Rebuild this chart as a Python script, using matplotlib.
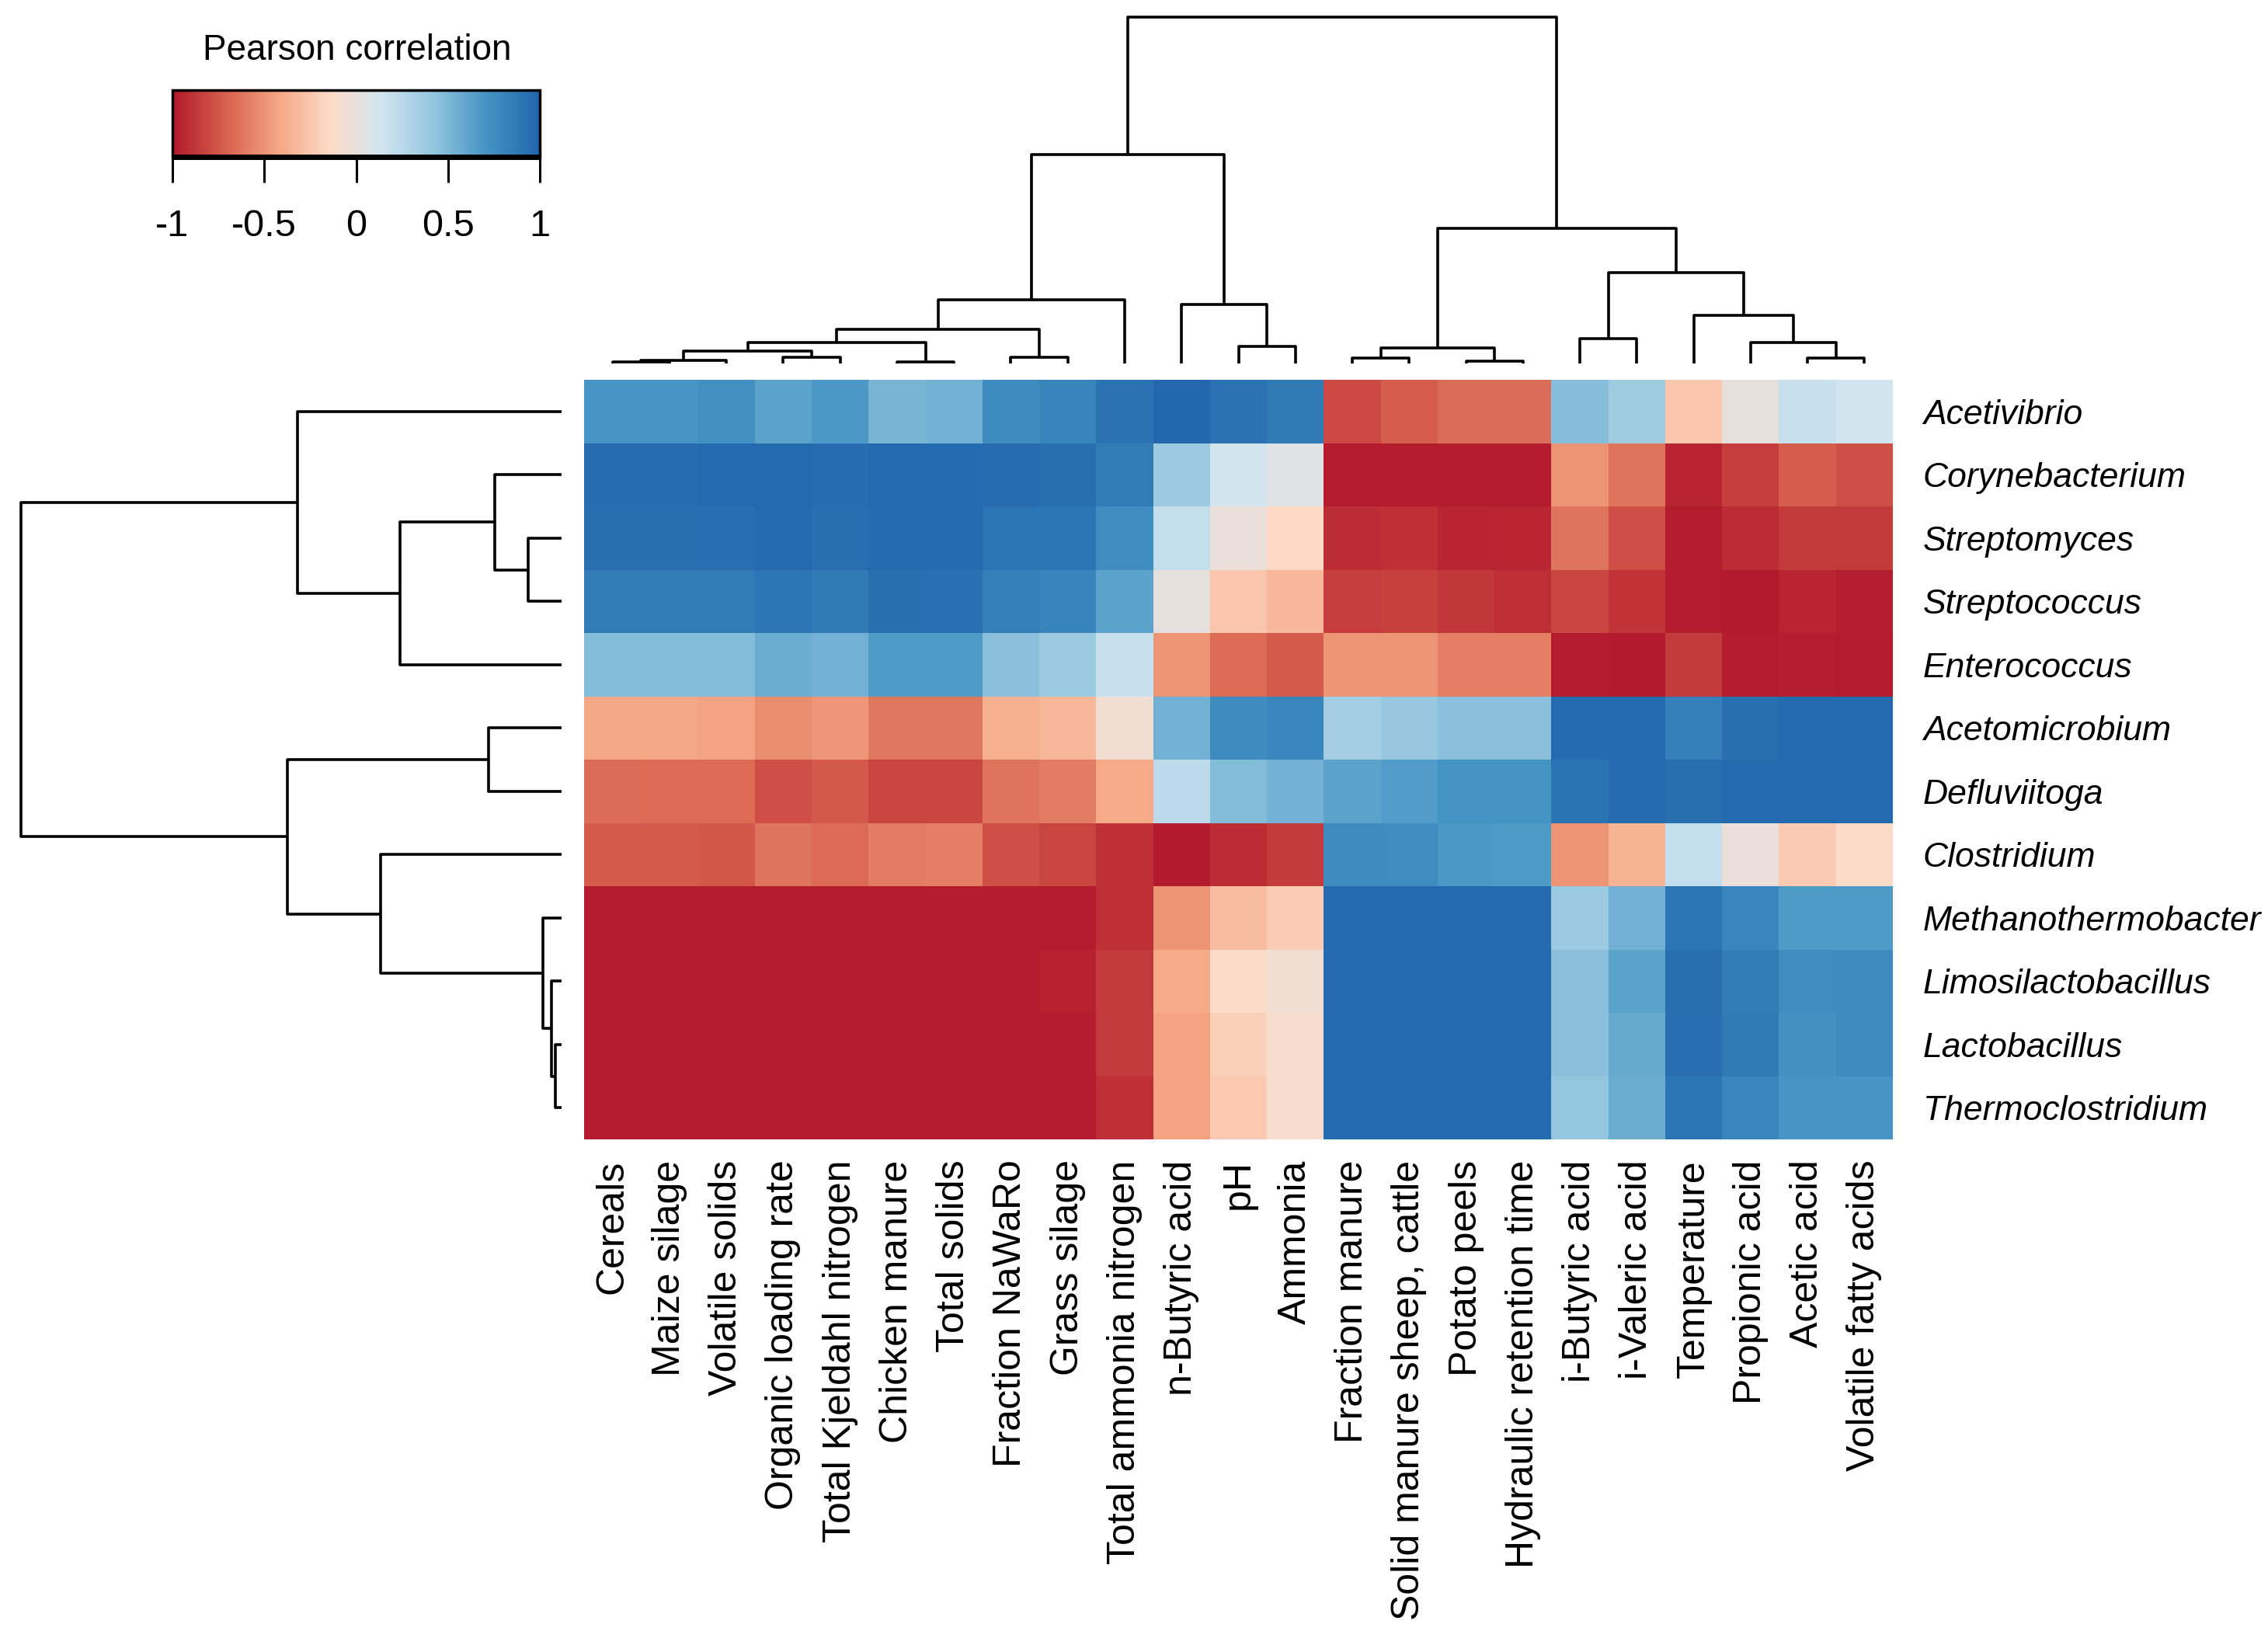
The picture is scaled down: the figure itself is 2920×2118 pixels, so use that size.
import numpy as np
import matplotlib
matplotlib.use("Agg")
import matplotlib.pyplot as plt
from matplotlib.colors import LinearSegmentedColormap, Normalize
from matplotlib.cm import ScalarMappable

plt.rcParams['font.family'] = ['Liberation Sans', 'DejaVu Sans']

# genera (rows, top to bottom) and process parameters (columns, left to right)
genera = ["Acetivibrio", "Corynebacterium", "Streptomyces", "Streptococcus",
          "Enterococcus", "Acetomicrobium", "Defluviitoga", "Clostridium",
          "Methanothermobacter", "Limosilactobacillus", "Lactobacillus",
          "Thermoclostridium"]
variables = ["Cereals", "Maize silage", "Volatile solids", "Organic loading rate",
             "Total Kjeldahl nitrogen", "Chicken manure", "Total solids",
             "Fraction NaWaRo", "Grass silage", "Total ammonia nitrogen",
             "n-Butyric acid", "pH", "Ammonia", "Fraction manure",
             "Solid manure sheep, cattle", "Potato peels", "Hydraulic retention time",
             "i-Butyric acid", "i-Valeric acid", "Temperature", "Propionic acid",
             "Acetic acid", "Volatile fatty acids"]

# pearson correlations
corr = np.array([
    [0.70, 0.70, 0.73, 0.62, 0.68, 0.52, 0.54, 0.76, 0.80, 0.92, 0.98, 0.92, 0.87,
     -0.80, -0.72, -0.66, -0.66, 0.47, 0.36, -0.25, 0.00, 0.18, 0.14],
    [0.96, 0.96, 0.97, 0.97, 0.96, 0.97, 0.97, 0.96, 0.94, 0.86, 0.39, 0.14, 0.05,
     -0.98, -0.98, -0.98, -0.98, -0.50, -0.63, -0.95, -0.85, -0.72, -0.78],
    [0.94, 0.94, 0.95, 0.97, 0.94, 0.97, 0.97, 0.90, 0.90, 0.75, 0.20, -0.02, -0.15,
     -0.92, -0.90, -0.95, -0.94, -0.63, -0.78, -0.98, -0.92, -0.86, -0.86],
    [0.86, 0.86, 0.86, 0.90, 0.87, 0.94, 0.93, 0.84, 0.80, 0.62, 0.00, -0.25, -0.33,
     -0.85, -0.84, -0.88, -0.91, -0.82, -0.89, -0.98, -0.99, -0.95, -0.97],
    [0.48, 0.48, 0.48, 0.57, 0.54, 0.67, 0.67, 0.46, 0.39, 0.18, -0.50, -0.67, -0.73,
     -0.50, -0.50, -0.58, -0.58, -0.98, -0.99, -0.86, -0.98, -0.97, -0.98],
    [-0.42, -0.42, -0.43, -0.53, -0.49, -0.61, -0.61, -0.36, -0.33, -0.07, 0.54, 0.76, 0.79,
     0.35, 0.40, 0.46, 0.46, 0.97, 0.97, 0.84, 0.94, 0.97, 0.97],
    [-0.66, -0.67, -0.67, -0.78, -0.74, -0.82, -0.82, -0.63, -0.60, -0.40, 0.24, 0.48, 0.54,
     0.62, 0.66, 0.71, 0.71, 0.91, 0.97, 0.94, 0.97, 0.97, 0.97],
    [-0.73, -0.73, -0.75, -0.63, -0.67, -0.60, -0.58, -0.78, -0.82, -0.90, -0.99, -0.92, -0.86,
     0.76, 0.75, 0.68, 0.67, -0.50, -0.35, 0.21, -0.02, -0.23, -0.14],
    [-0.98, -0.98, -0.98, -0.98, -0.98, -0.98, -0.98, -0.98, -0.98, -0.90, -0.50, -0.30, -0.22,
     0.97, 0.97, 0.97, 0.97, 0.39, 0.54, 0.90, 0.79, 0.67, 0.67],
    [-0.98, -0.98, -0.98, -0.98, -0.98, -0.98, -0.98, -0.98, -0.96, -0.86, -0.40, -0.14, -0.07,
     0.97, 0.97, 0.97, 0.97, 0.46, 0.62, 0.94, 0.86, 0.75, 0.76],
    [-0.98, -0.98, -0.98, -0.98, -0.98, -0.98, -0.98, -0.98, -0.98, -0.86, -0.43, -0.20, -0.10,
     0.97, 0.97, 0.97, 0.97, 0.46, 0.58, 0.95, 0.87, 0.72, 0.76],
    [-0.98, -0.98, -0.98, -0.98, -0.98, -0.98, -0.98, -0.98, -0.98, -0.90, -0.43, -0.24, -0.10,
     0.97, 0.97, 0.97, 0.97, 0.42, 0.57, 0.90, 0.79, 0.70, 0.70],
])

# merges (left child, right child, height); leaves 0..n-1, merge k gets id n+k
col_links = [(0, 1, 2.3), (23, 2, 4.0), (3, 4, 7.7), (24, 25, 15.7), (5, 6, 1.7),
             (26, 27, 27.3), (7, 8, 8.3), (28, 29, 44.0), (30, 9, 82.7), (11, 12, 21.7),
             (10, 32, 76.7), (31, 33, 270.0), (13, 14, 7.3), (15, 16, 3.3),
             (35, 36, 20.0), (17, 18, 31.7), (21, 22, 6.7), (20, 39, 27.3),
             (19, 40, 62.7), (38, 41, 117.7), (37, 42, 175.0), (34, 43, 448.0)]
row_links = [(2, 3, 43), (1, 12, 86), (13, 4, 208), (0, 14, 340), (10, 11, 8),
             (9, 16, 13), (8, 17, 24), (7, 18, 233), (5, 6, 94), (20, 19, 353),
             (15, 21, 696)]

palette = ['#b2182b', '#d6604d', '#f4a582', '#fddbc7',
           '#d1e5f0', '#92c5de', '#4393c3', '#2166ac']
cmap = LinearSegmentedColormap.from_list("rdbu8", palette, N=256)


def dendro_segments(n, links):
    pos = {i: i + 0.5 for i in range(n)}
    hgt = {i: 0.0 for i in range(n)}
    segs = []
    for k, (a, b, h) in enumerate(links):
        segs.append(([pos[a], pos[a], pos[b], pos[b]], [hgt[a], h, h, hgt[b]]))
        pos[n + k] = (pos[a] + pos[b]) / 2
        hgt[n + k] = h
    return segs


W, H = 2920, 2118
fig = plt.figure(figsize=(W / 100, H / 100), dpi=100)

def px_axes(x0, y0, x1, y1):
    return fig.add_axes([x0 / W, 1 - y1 / H, (x1 - x0) / W, (y1 - y0) / H])

hx0, hx1, hy0, hy1 = 752, 2437, 489, 1467
nr, nc = corr.shape

# heatmap
ax = px_axes(hx0, hy0, hx1, hy1)
ax.pcolormesh(np.arange(nc + 1), np.arange(nr + 1), corr, cmap=cmap, vmin=-1, vmax=1)
ax.set_xlim(0, nc)
ax.set_ylim(nr, 0)
for s in ax.spines.values():
    s.set_visible(False)
ax.set_xticks(np.arange(nc) + 0.5)
ax.set_xticklabels(variables, rotation=90, fontsize=36, va='top', ha='center')
ax.tick_params(axis='x', length=0, pad=19)
ax.yaxis.tick_right()
ax.set_yticks(np.arange(nr) + 0.5)
ax.set_yticklabels(genera, fontsize=32, style='italic')
ax.tick_params(axis='y', length=0, pad=28)

lw = 2.6
# column dendrogram
axt = px_axes(hx0, 22, hx1, 468)
for xs, ys in dendro_segments(nc, col_links):
    axt.plot(xs, ys, color='black', lw=lw, solid_capstyle='butt', clip_on=False)
axt.set_xlim(0, nc)
axt.set_ylim(0, max(h for _, _, h in col_links))
axt.axis('off')

# row dendrogram
axl = px_axes(27, hy0, 723, hy1)
for ps, hs in dendro_segments(nr, row_links):
    axl.plot(hs, ps, color='black', lw=lw, solid_capstyle='butt', clip_on=False)
axl.set_xlim(max(h for _, _, h in row_links), 0)
axl.set_ylim(nr, 0)
axl.axis('off')

# colour key
cax = px_axes(222, 116, 695, 202)
cb = fig.colorbar(ScalarMappable(norm=Normalize(-1, 1), cmap=cmap), cax=cax,
                  orientation='horizontal')
cb.set_ticks([-1, -0.5, 0, 0.5, 1])
cb.set_ticklabels(["-1", "-0.5", "0", "0.5", "1"])
cb.outline.set_linewidth(2.5)
cax.plot([0, 1], [0, 0], transform=cax.transAxes, color='black', lw=5,
         clip_on=False, solid_capstyle='butt')
cax.tick_params(axis='x', length=24, width=2.2, labelsize=35, pad=24)
fig.text(460 / W, 1 - 65 / H, "Pearson correlation", fontsize=33,
         ha='center', va='center')

fig.savefig("out.png", dpi=100)
